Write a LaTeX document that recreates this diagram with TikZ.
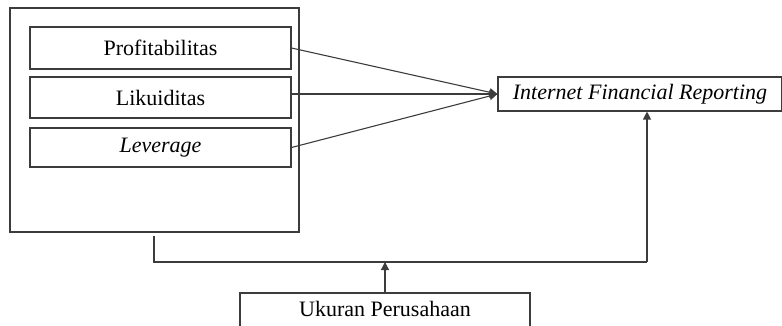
\documentclass[tikz,border=0pt]{standalone}
\usepackage{fontspec}
\setmainfont{Liberation Serif}
\usetikzlibrary{arrows.meta}
\definecolor{ln}{HTML}{3C3C3C}
\tikzset{
  box/.style={draw=ln, line width=1.1pt, inner sep=0pt, font=\fontsize{22}{24}\selectfont},
  conn/.style={draw=ln, line width=1.1pt},
  arr/.style={conn, -{Triangle[length=8pt,width=8pt]}}
}
\begin{document}
\begin{tikzpicture}[x=1pt,y=-1pt]
\useasboundingbox (0,0) rectangle (782,326);
\node[box, minimum width=289pt, minimum height=224pt] (outer) at (154.5,120) {};
\node[box, minimum width=261pt, minimum height=42pt] (prof) at (160.5,48) {Profitabilitas};
\node[box, minimum width=261pt, minimum height=41pt] (liq) at (160.5,97.5) {Likuiditas};
\node[box, minimum width=261pt, minimum height=39pt] (lev) at (160.5,147.5) {\itshape Leverage};
\node[box, minimum width=284pt, minimum height=34pt] (ifr) at (640,94) {\itshape Internet Financial Reporting};
\node[box, minimum width=290pt, minimum height=42pt, text depth=10pt] (uk) at (385,314) {Ukuran Perusahaan};
\coordinate (bs) at (154,236);
\coordinate (m) at (647,262);
\draw[arr] (prof.east) -- (ifr.west);
\draw[arr] (liq.east |- ifr.west) -- (ifr.west);
\draw[arr] (lev.east) -- (ifr.west);
\draw[conn] (bs) |- (m);
\draw[arr] (m) -- (ifr.south -| m);
\draw[arr] (uk.north) -- (uk.north |- m);
\end{tikzpicture}
\end{document}
